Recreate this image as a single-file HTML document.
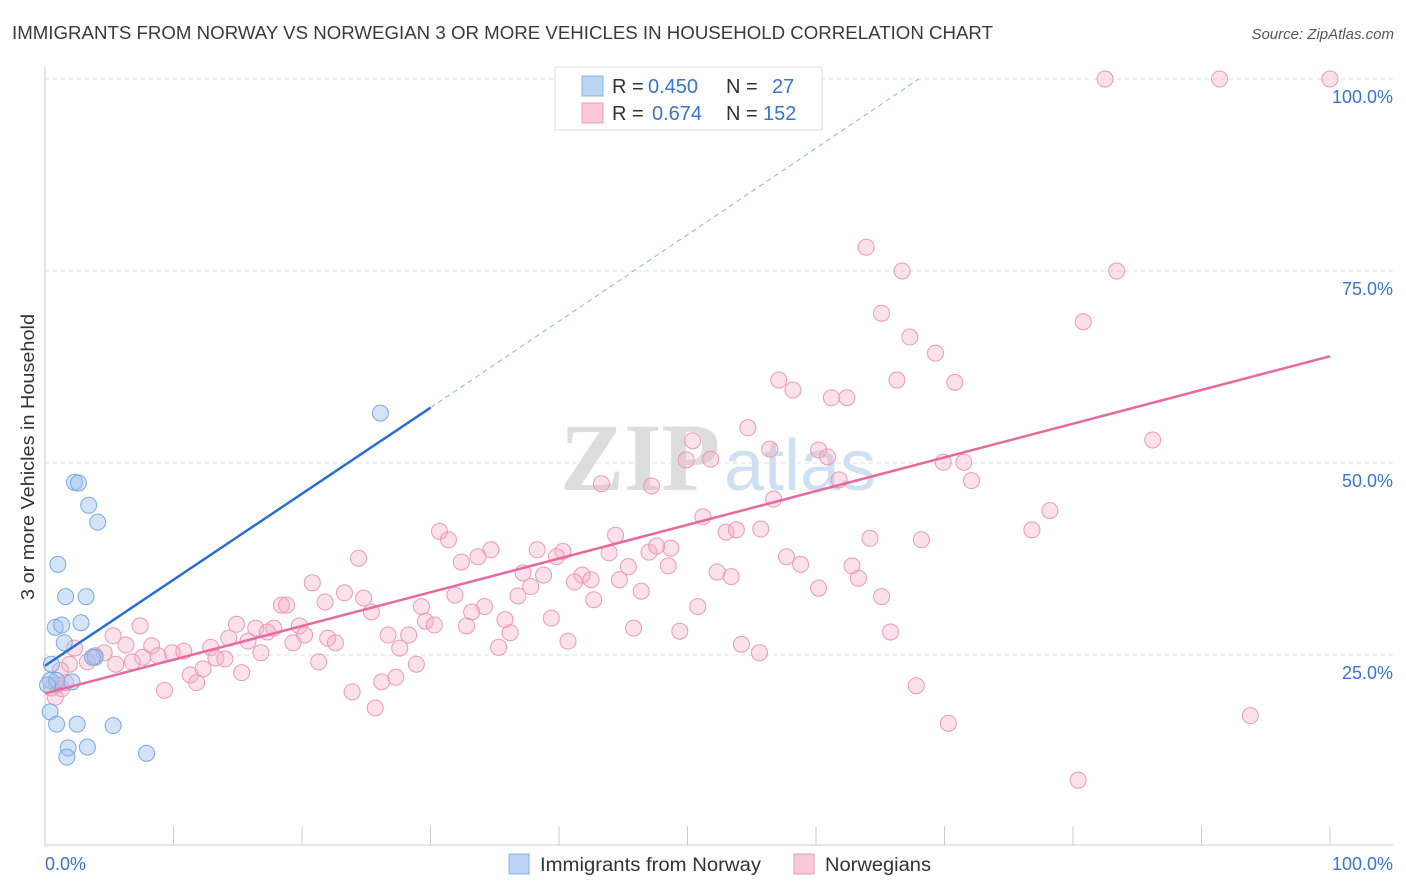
<!DOCTYPE html>
<html><head><meta charset="utf-8">
<style>
body{margin:0;background:#fff;font-family:"Liberation Sans",sans-serif;}
svg{display:block}
</style></head>
<body>
<svg id="chart" width="1406" height="892" xmlns="http://www.w3.org/2000/svg">
<text x="12" y="39" font-size="18" fill="#3a3a3a" textLength="981" lengthAdjust="spacingAndGlyphs">IMMIGRANTS FROM NORWAY VS NORWEGIAN 3 OR MORE VEHICLES IN HOUSEHOLD CORRELATION CHART</text>
<text x="1394" y="39" font-size="15" fill="#555" font-style="italic" text-anchor="end">Source: ZipAtlas.com</text>
<text transform="translate(34,457) rotate(-90)" font-size="18" fill="#333" text-anchor="middle" textLength="286" lengthAdjust="spacingAndGlyphs">3 or more Vehicles in Household</text>
<g font-size="96" text-anchor="middle">
<text x="640" y="490" fill="#ddd" font-family="Liberation Serif,serif" font-weight="bold">ZIP</text>
<text x="800" y="490" fill="#cfe0f3" font-size="72">atlas</text>
</g>
<g id="grid"></g>
<g id="axes"></g>
<g id="points"></g>
<g id="trends"></g>
<g font-size="20">
<rect x="555" y="67" width="267" height="63" fill="#fff" stroke="#ddd"/>
<rect x="582" y="76" width="21" height="20" fill="#bcd5f5" stroke="#8ab3e6"/>
<rect x="582" y="103" width="21" height="20" fill="#fbc8d8" stroke="#ee9bb6"/>
<text x="612" y="93" fill="#333">R =</text>
<text x="648" y="93" fill="#3874d0">0.450</text>
<text x="726" y="93" fill="#333">N =</text>
<text x="772" y="93" fill="#3874d0">27</text>
<text x="612" y="120" fill="#333">R =</text>
<text x="652" y="120" fill="#3874d0">0.674</text>
<text x="726" y="120" fill="#333">N =</text>
<text x="763" y="120" fill="#3874d0">152</text>
</g>
<g font-size="19" fill="#333">
<rect x="509" y="854" width="20" height="20" fill="#bcd5f5" stroke="#8ab3e6"/>
<text x="540" y="871" textLength="221" lengthAdjust="spacingAndGlyphs">Immigrants from Norway</text>
<rect x="794" y="854" width="20" height="20" fill="#fbc8d8" stroke="#ee9bb6"/>
<text x="825" y="871" textLength="106" lengthAdjust="spacingAndGlyphs">Norwegians</text>
</g>
</svg>
<script>
const yTicks=[25,50,75,100];
const yTickLabels=["25.0%","50.0%","75.0%","100.0%"];
const xTickVals=[0,10,20,30,40,50,60,70,80,90,100];
const blueX=[26.1,2.3,2.6,3.4,4.1,1.0,1.6,3.2,0.8,1.3,2.8,1.5,3.9,3.7,0.5,0.4,0.9,2.1,0.2,0.4,0.9,2.5,5.3,1.8,3.3,1.7,7.9];
const blueY=[56.5,47.5,47.4,44.5,42.3,36.8,32.6,32.6,28.6,28.9,29.2,26.6,24.7,24.7,23.8,21.7,21.7,21.5,21.1,17.6,16,16,15.8,12.9,13,11.7,12.2];
const pinkX=[82.5,91.4,100,63.9,66.7,83.4,65.1,80.8,67.3,69.3,57.1,66.3,70.8,58.2,61.2,62.4,54.7,86.2,50.4,56.4,60.2,60.9,49.9,51.8,69.9,71.5,61.8,72.1,43.3,47.2,56.7,78.2,51.2,76.8,30.7,53,53.8,55.7,44.4,31.4,64.2,68.2,34.7,38.3,40.3,43.9,47,48.7,47.6,24.4,33.7,39.8,32.4,57.7,58.8,62.8,45.4,48.5,37.2,38.8,41.8,52.3,53.4,63.3,20.8,41.2,42.5,44.7,37.8,60.2,46.4,23.3,24.8,31.9,36.8,65.1,42.7,21.8,18.4,18.8,29.3,34.2,50.8,25.4,33.2,39.4,35.8,29.6,30.3,32.8,7.4,14.9,16.4,17.8,19.8,45.8,49.4,65.8,17.3,20.2,26.7,28.3,36.2,5.3,22.0,14.3,15.8,22.6,40.7,19.3,54.2,8.3,12.9,6.3,27.6,35.3,2.3,10.8,9.9,4.6,16.8,3.9,7.6,8.8,13.3,55.6,14,3.3,1.9,5.5,6.8,21.3,28.9,12.3,1.2,11.3,15.3,27.3,26.2,0.9,1.3,11.8,9.3,23.9,67.8,0.8,25.7,93.8,70.3,80.4,0.5,1.6];
const pinkY=[100,100,100,78.1,75,75,69.5,68.4,66.4,64.3,60.8,60.8,60.5,59.5,58.5,58.5,54.6,53,52.9,51.8,51.7,50.8,50.4,50.5,50.1,50.1,47.8,47.7,47.3,47,45.3,43.8,43,41.3,41.1,41,41.3,41.4,40.6,40,40.2,40,38.7,38.7,38.5,38.3,38.4,38.9,39.2,37.6,37.8,37.8,37.1,37.8,36.8,36.6,36.5,36.6,35.7,35.4,35.4,35.8,35.2,35,34.4,34.5,34.8,34.8,33.9,33.7,33.3,33.1,32.4,32.8,32.7,32.6,32.2,31.9,31.5,31.5,31.3,31.3,31.3,30.6,30.6,29.8,29.6,29.4,28.9,28.8,28.8,29,28.5,28.5,28.8,28.5,28.1,28,28,27.6,27.6,27.6,27.9,27.5,27.2,27.2,26.8,26.6,26.8,26.6,26.4,26.2,26,26.3,25.9,26,25.9,25.5,25.3,25.3,25.3,24.9,24.7,24.9,24.6,25.3,24.5,24.1,23.8,23.8,24.1,24.1,23.8,23.2,23,22.4,22.7,22.1,21.5,21.1,20.6,21.4,20.4,20.2,21,19.5,18.1,17.1,16.1,8.7,20.7,21.4];
const blueTrend=[[0,23.6],[30,57.2]];
const blueTrendExt=[[30,57.2],[68,100]];
const pinkTrend=[[0,20],[100,63.9]];
const NS="http://www.w3.org/2000/svg";
const X0=45,X1=1330,Y0=847,Y100=79;
const sx=v=>X0+(X1-X0)*v/100;
const sy=v=>Y0-(Y0-Y100)*v/100;
function mk(tag,attrs,parent){const e=document.createElementNS(NS,tag);for(const k in attrs)e.setAttribute(k,attrs[k]);parent.appendChild(e);return e;}
const grid=document.getElementById('grid'),axes=document.getElementById('axes'),pts=document.getElementById('points'),tr=document.getElementById('trends');
yTicks.forEach((t,i)=>{
 const l=mk('line',{x1:X0,x2:1393,y1:sy(t),y2:sy(t),stroke:'#ddd','stroke-dasharray':'4,4'},grid);
 
 
 const tx=mk('text',{x:1393,y:sy(t)+24,'font-size':18,fill:'#3874d0','text-anchor':'end'},axes);
 tx.textContent=yTickLabels[i];
 
 
});
const ya=mk('line',{x1:X0,x2:X0,y1:67,y2:Y0,stroke:'#ccc'},axes);


const xa=mk('line',{x1:X0,x2:1393,y1:845,y2:845,stroke:'#ccc'},axes);


xTickVals.forEach(v=>{
 const t=mk('line',{x1:sx(v),x2:sx(v),y1:826,y2:845,stroke:'#ccc'},axes);
 
 
});
const xl0=mk('text',{x:45,y:870,'font-size':18,fill:'#3874d0'},axes);xl0.textContent='0.0%';


const xl1=mk('text',{x:1393,y:870,'font-size':18,fill:'#3874d0','text-anchor':'end'},axes);xl1.textContent='100.0%';


pinkX.forEach((x,i)=>{
 const c=mk('circle',{cx:sx(x),cy:sy(pinkY[i]),r:8,fill:'rgba(245,170,195,0.35)',stroke:'#eb9ab5','stroke-width':1},pts);
 
 
});
blueX.forEach((x,i)=>{
 const c=mk('circle',{cx:sx(x),cy:sy(blueY[i]),r:8,fill:'rgba(160,195,240,0.45)',stroke:'#7aa8e0','stroke-width':1},pts);
 
 
});
const bl=mk('line',{x1:sx(blueTrend[0][0]),y1:sy(blueTrend[0][1]),x2:sx(blueTrend[1][0]),y2:sy(blueTrend[1][1]),stroke:'#2a6fd0','stroke-width':2.5},tr);


const be=mk('line',{x1:sx(blueTrendExt[0][0]),y1:sy(blueTrendExt[0][1]),x2:sx(blueTrendExt[1][0]),y2:sy(blueTrendExt[1][1]),stroke:'#8ab3e6','stroke-width':1,'stroke-dasharray':'5,4'},tr);


const pl=mk('line',{x1:sx(pinkTrend[0][0]),y1:sy(pinkTrend[0][1]),x2:sx(pinkTrend[1][0]),y2:sy(pinkTrend[1][1]),stroke:'#e8699a','stroke-width':2.5},tr);


</script>
</body></html>
